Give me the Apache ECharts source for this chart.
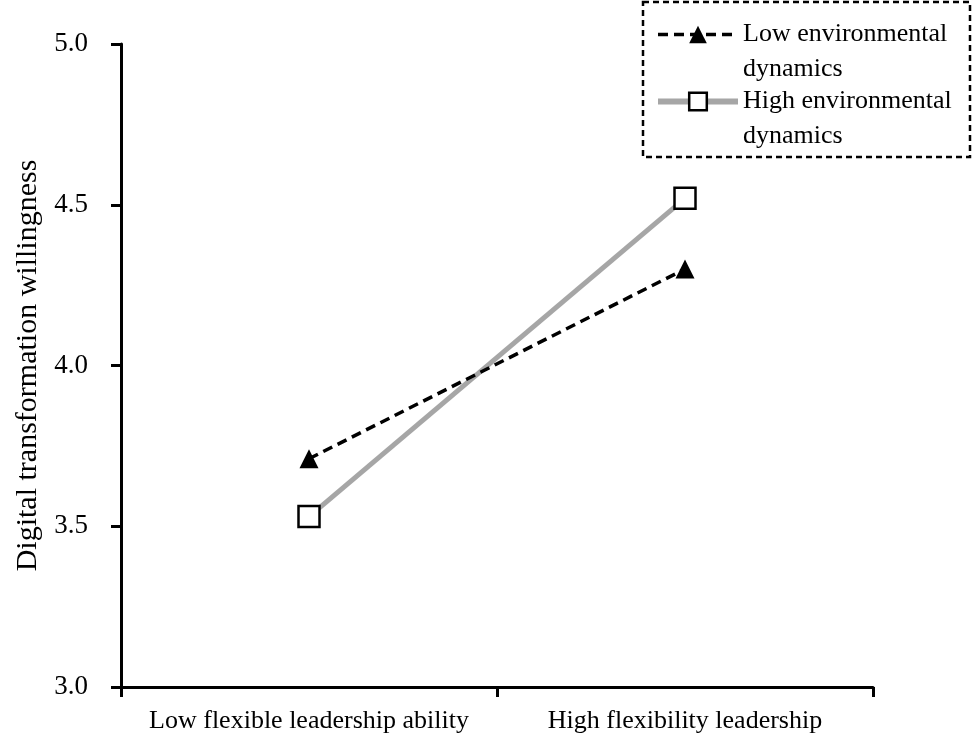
<!DOCTYPE html>
<html>
<head>
<meta charset="utf-8">
<script src="https://cdn.jsdelivr.net/npm/echarts@6/dist/echarts.min.js"></script>
<style>
  html, body { margin: 0; padding: 0; background: #fff; }
  #chart { width: 973px; height: 740px; }
</style>
</head>
<body>
<div id="chart"></div>
<script>
// categories on the x axis
const categories = ['Low flexible leadership ability', 'High flexibility leadership'];
// series values
const lowDynamics = [3.71, 4.30];
const highDynamics = [3.53, 4.52];
const seriesNames = ['Low environmental dynamics', 'High environmental dynamics'];
// legend text, split over two lines (leading blank line keeps the icon on line one)
const legendLabels = {
  'Low environmental dynamics': '\nLow environmental\ndynamics',
  'High environmental dynamics': '\nHigh environmental\ndynamics'
};

const chart = echarts.init(document.getElementById('chart'));
const font = '"Liberation Serif", "Times New Roman", serif';

const option = {
  backgroundColor: '#fff',
  animation: false,
  textStyle: { fontFamily: font, color: '#000' },
  grid: { left: 121, right: 100, top: 44, bottom: 53, outerBoundsMode: 'none' },
  legend: {
    orient: 'vertical',
    left: 655,
    top: -18,
    padding: 0,
    itemWidth: 80,
    itemHeight: 22,
    itemGap: -38,
    data: [
      {
        name: seriesNames[0],
        lineStyle: { color: '#000', width: 3.5, type: [10, 6] },
        itemStyle: { color: '#000' }
      },
      {
        name: seriesNames[1],
        lineStyle: { color: '#a6a6a6', width: 6 },
        itemStyle: { color: '#fff', borderColor: '#000', borderWidth: 2.5 }
      }
    ],
    formatter: name => legendLabels[name],
    textStyle: {
      fontFamily: font,
      fontSize: 26,
      color: '#000',
      lineHeight: 35
    }
  },
  graphic: [{
    type: 'rect',
    shape: { x: 643, y: 2, width: 327, height: 155 },
    style: { fill: 'none', stroke: '#000', lineWidth: 2.5, lineDash: [6, 4] },
    z: 10
  }],
  xAxis: {
    type: 'category',
    data: categories,
    boundaryGap: true,
    axisLine: { lineStyle: { color: '#000', width: 3 } },
    axisTick: { show: true, interval: 0, length: 10, lineStyle: { color: '#000', width: 3 } },
    axisLabel: { color: '#000', fontFamily: font, fontSize: 26, margin: 21, interval: 0 },
    splitLine: { show: false }
  },
  yAxis: {
    type: 'value',
    min: 3.0,
    max: 5.0,
    interval: 0.5,
    name: 'Digital transformation willingness',
    nameLocation: 'middle',
    nameRotate: 90,
    nameGap: 72,
    nameTextStyle: { color: '#000', fontFamily: font, fontSize: 30 },
    axisLine: { show: true, lineStyle: { color: '#000', width: 3 } },
    axisTick: { show: true, length: 10, lineStyle: { color: '#000', width: 3 } },
    axisLabel: {
      color: '#000', fontFamily: font, fontSize: 27, margin: 33,
      formatter: v => v.toFixed(1)
    },
    splitLine: { show: false }
  },
  series: [
    {
      name: seriesNames[0],
      type: 'line',
      data: lowDynamics,
      symbol: 'triangle',
      symbolSize: 19,
      itemStyle: { color: '#000' },
      lineStyle: { color: '#000', width: 3.5, type: [10, 6] },
      z: 3
    },
    {
      name: seriesNames[1],
      type: 'line',
      data: highDynamics,
      symbol: 'rect',
      symbolSize: 21,
      itemStyle: { color: '#fff', borderColor: '#000', borderWidth: 2.5 },
      lineStyle: { color: '#a6a6a6', width: 5 },
      z: 2
    }
  ]
};

chart.setOption(option);
</script>
</body>
</html>
